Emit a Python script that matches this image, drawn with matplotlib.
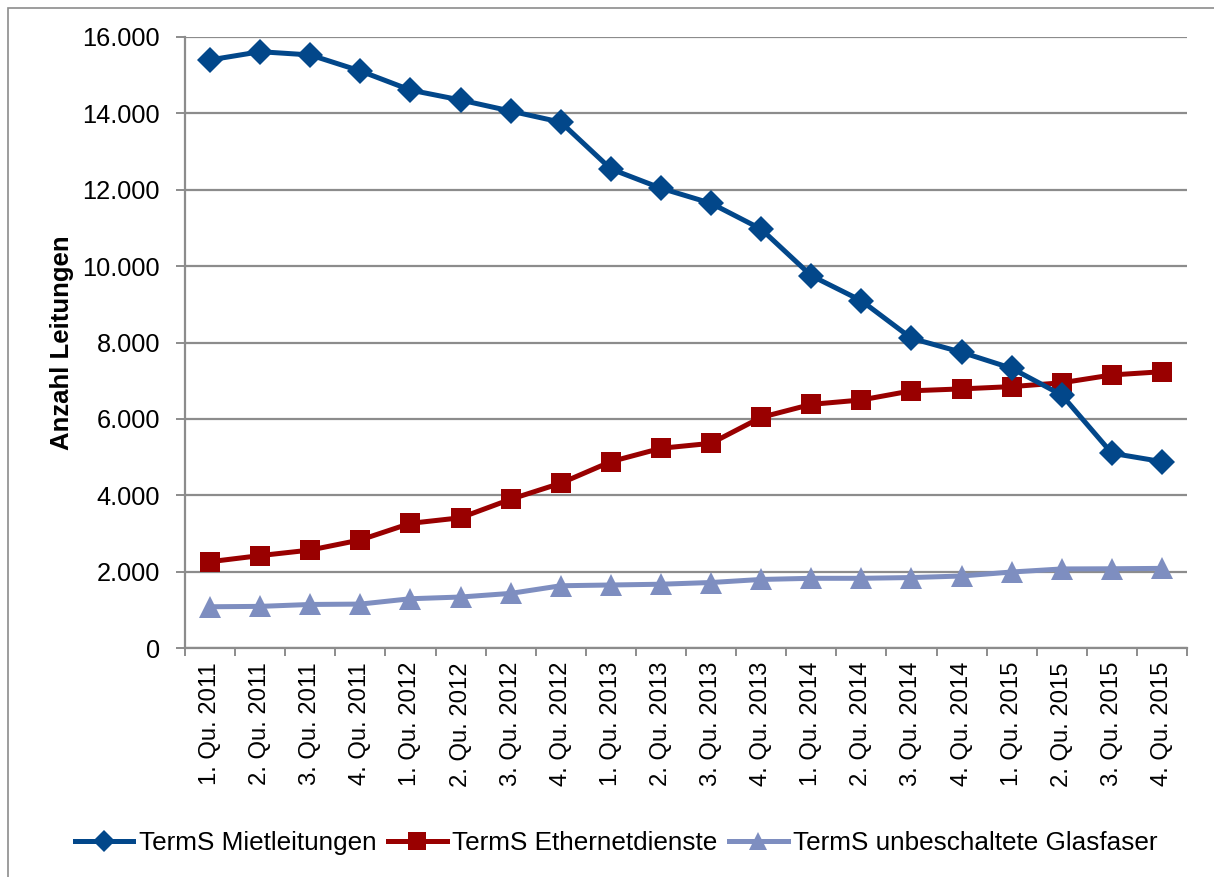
import matplotlib
matplotlib.use("Agg")
import matplotlib.pyplot as plt
from matplotlib.ticker import FuncFormatter, MultipleLocator
from matplotlib.patches import Rectangle

plt.rcParams['font.family'] = ['Liberation Sans', 'DejaVu Sans']

quarters = [f"{q}. Qu. {y}" for y in (2011, 2012, 2013, 2014, 2015) for q in (1, 2, 3, 4)]

mietleitungen = [15400, 15615, 15530, 15110, 14610, 14350, 14060, 13770,
                 12545, 12040, 11645, 10970, 9750, 9095, 8110, 7745,
                 7325, 6625, 5100, 4880]
ethernetdienste = [2260, 2420, 2565, 2830, 3265, 3410, 3895, 4315,
                   4880, 5230, 5360, 6040, 6380, 6495, 6735, 6785,
                   6845, 6945, 7150, 7235]
glasfaser = [1080, 1090, 1140, 1150, 1290, 1335, 1430, 1630,
             1650, 1670, 1715, 1795, 1825, 1825, 1845, 1885,
             1990, 2070, 2075, 2085]

series_labels = ["TermS Mietleitungen", "TermS Ethernetdienste",
                 "TermS unbeschaltete Glasfaser"]

W, H = 1214, 877
fig = plt.figure(figsize=(W / 100, H / 100), dpi=100)
ax = fig.add_axes([185 / W, 1 - 648 / H, (1187 - 185) / W, (648 - 37) / H])

# outer chart frame (only top and left edges fall inside the canvas)
fig.patches.append(Rectangle((8 / W, -0.05), 1.2, 1 - 8 / H + 0.05,
                             transform=fig.transFigure, fill=False,
                             edgecolor='#8c8c8c', linewidth=1.2))

x = list(range(len(quarters)))
grid_c = '#8c8c8c'

ax.plot(x, mietleitungen, color='#02478A', lw=3.6, marker='D', ms=13,
        markeredgewidth=0, label=series_labels[0], zorder=5)
ax.plot(x, ethernetdienste, color='#990000', lw=3.6, marker='s', ms=15,
        markeredgewidth=0, label=series_labels[1], zorder=4)
ax.plot(x, glasfaser, color='#7E8EC0', lw=3.6, marker='^', ms=15.5,
        markeredgewidth=0, label=series_labels[2], zorder=3)

ax.set_xlim(-0.5, len(quarters) - 0.5)
ax.set_ylim(0, 16000)
ax.yaxis.set_major_locator(MultipleLocator(2000))
ax.yaxis.set_major_formatter(FuncFormatter(lambda v, p: f"{int(v):,}".replace(",", ".")))
ax.grid(axis='y', color=grid_c, linewidth=1.6, zorder=0)
ax.set_axisbelow(True)

ax.set_xticks(x)
ax.set_xticklabels(quarters, rotation=90, fontsize=17.2)
ax.set_xticks([i - 0.5 for i in range(len(quarters) + 1)], minor=True)
ax.tick_params(axis='x', which='major', length=0, pad=10)
ax.tick_params(axis='x', which='minor', length=5.5, width=1.4, color=grid_c)
ax.tick_params(axis='y', length=6.5, width=1.4, color=grid_c, labelsize=18.3, pad=11.5)

for s in ('top', 'right'):
    ax.spines[s].set_visible(False)
for s in ('left', 'bottom'):
    ax.spines[s].set_color(grid_c)
    ax.spines[s].set_linewidth(1.6)

ax.set_ylabel("Anzahl Leitungen", fontsize=18.5, fontweight='bold', labelpad=6)

fig.legend(loc='center', bbox_to_anchor=(616 / W, 1 - 843 / H), ncol=3,
           frameon=False, fontsize=18.8, handlelength=2.25, handletextpad=0.2,
           columnspacing=0.45, borderpad=0, markerscale=0.85)

fig.savefig("out.png", dpi=100)
